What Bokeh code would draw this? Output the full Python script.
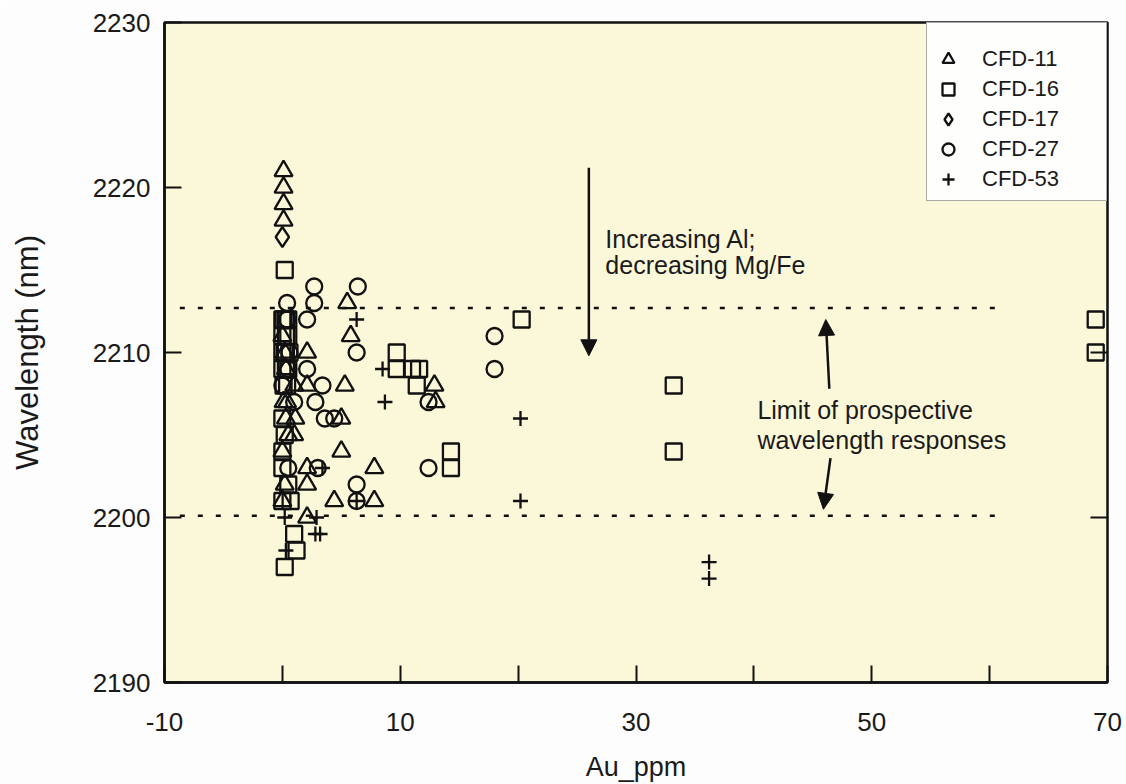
from bokeh.plotting import figure
from bokeh.models import (FixedTicker, Legend, LegendItem, Arrow, NormalHead,
                          LinearAxis, Range1d)
from bokeh.embed import file_html
from bokeh.resources import INLINE
from bokeh.core.properties import value

FONT = "Liberation Sans"

# ---------------- data ----------------
series_names = ["CFD-11", "CFD-16", "CFD-17", "CFD-27", "CFD-53"]

cfd11_au = [0.1, 0.1, 0.1, 0.1, 5.5, 5.8, 0.0, 2.1, 0.2, 1.0, 2.1, 5.3, 0.1, 0.3, 1.1,
            5.0, 0.5, 1.0, 0.0, 5.0, 2.1, 7.8, 0.2, 2.1, 0.0, 4.4, 7.8, 2.1, 12.9, 13.0,
            0.3, 0.4]
cfd11_wl = [2221, 2220, 2219, 2218, 2213, 2211, 2211, 2210, 2210, 2208, 2208, 2208, 2207,
            2206, 2206, 2206, 2205, 2205, 2204, 2204, 2203, 2203, 2202, 2202, 2201, 2201,
            2201, 2200, 2208, 2207, 2209, 2207]

cfd16_au = [0.2, 0.0, 0.3, 0.0, 0.3, 0.0, 0.3, 0.0, 0.3, 0.1, 0.0, 0.2, 0.0, 0.0, 0.5,
            0.0, 0.7, 1.0, 1.2, 0.2, 9.7, 9.7, 11.0, 11.6, 11.4, 14.3, 14.3, 20.3, 33.2,
            33.2, 69.0, 69.0, 0.1, 0.5, 0.5, 0.2, 0.6, 0.5, 0.4]
cfd16_wl = [2215, 2212, 2212, 2211, 2211, 2210, 2210, 2209, 2209, 2208, 2206, 2205, 2204,
            2203, 2202, 2201, 2201, 2199, 2198, 2197, 2210, 2209, 2209, 2209, 2208, 2204,
            2203, 2212, 2208, 2204, 2212, 2210, 2212, 2212, 2211, 2210, 2210, 2209, 2208]

cfd17_au = [0.0]
cfd17_wl = [2217]

cfd27_au = [2.7, 6.4, 0.4, 2.7, 0.4, 2.1, 0.6, 6.3, 0.5, 2.1, 0.0, 3.4, 1.0, 2.8, 3.6,
            4.4, 0.5, 3.0, 6.3, 6.3, 12.4, 12.4, 18.0, 18.0]
cfd27_wl = [2214, 2214, 2213, 2213, 2212, 2212, 2210, 2210, 2209, 2209, 2208, 2208, 2207,
            2207, 2206, 2206, 2203, 2203, 2202, 2201, 2207, 2203, 2211, 2209]

cfd53_au = [6.3, 8.5, 8.7, 3.4, 6.3, 0.2, 2.9, 2.8, 3.2, 0.3, 20.2, 20.2, 36.2, 36.2]
cfd53_wl = [2212, 2209, 2207, 2203, 2201, 2200, 2200, 2199, 2199, 2198, 2206, 2201,
            2197.3, 2196.3]

# limits of prospective wavelength responses
limit_wl = [2212.7, 2200.1]
limit_au_span = [-8.7, 61.5]

x_major_ticks = [-10, 10, 30, 50, 70]
x_minor_ticks = [0, 20, 40, 60]
y_ticks = [2190, 2200, 2210, 2220, 2230]

# annotation texts (positions in data units)
note1_lines = ["Increasing Al;", "decreasing Mg/Fe"]
note1_x = 27.4
note1_y = [2216.9, 2215.3]
note2_lines = ["Limit of prospective", "wavelength responses"]
note2_x = 40.3
note2_y = [2206.5, 2204.7]

# arrows: (x_start, y_start, x_end, y_end)
arrows = [
    (26.0, 2221.2, 26.0, 2209.8),
    (46.4, 2207.8, 46.1, 2212.0),
    (46.5, 2203.6, 45.9, 2200.5),
]

# ---------------- figure ----------------
p = figure(width=1126, height=784,
           x_range=Range1d(-10, 70), y_range=Range1d(2190, 2230),
           output_backend="svg", toolbar_location=None,
           min_border_left=164, min_border_top=22, min_border_right=19,
           min_border_bottom=101)

p.background_fill_color = "#fbf8da"
p.border_fill_color = "#fdfdfd"
p.outline_line_color = "#111111"
p.outline_line_width = 2.5
p.grid.visible = False

# axes
xa = p.xaxis[0]
xa.ticker = FixedTicker(ticks=x_major_ticks, minor_ticks=x_minor_ticks)
xa.major_label_overrides = {-10: "-10"}
xa.axis_label = "Au_ppm"
ya = p.yaxis[0]
ya.ticker = FixedTicker(ticks=y_ticks)
ya.axis_label = "Wavelength (nm)"

for ax in (xa, ya):
    ax.axis_line_width = 2.5
    ax.axis_line_color = "#111111"
    ax.major_tick_in = 17
    ax.major_tick_out = 0
    ax.major_tick_line_width = 2
    ax.major_tick_line_color = "#111111"
    ax.minor_tick_in = 17
    ax.minor_tick_out = 0
    ax.minor_tick_line_width = 2
    ax.minor_tick_line_color = "#111111"
    ax.major_label_text_font = FONT
    ax.major_label_text_font_size = "26px"
    ax.major_label_text_color = "#1a1a1a"
    ax.axis_label_text_font = FONT
    ax.axis_label_text_font_size = "27px"
    ax.axis_label_text_font_style = "normal"
    ax.axis_label_text_color = "#1a1a1a"

ya.minor_tick_line_color = None
ya.axis_label_text_font_size = "31px"
xa.major_label_standoff = 30
xa.axis_label_standoff = 18
ya.major_label_standoff = 14
ya.axis_label_standoff = 45

# right axis: ticks only
ra = LinearAxis(ticker=FixedTicker(ticks=[2200, 2210, 2220]),
                major_label_overrides={2200: "", 2210: "", 2220: ""},
                axis_line_color=None, major_tick_in=17, major_tick_out=0,
                major_tick_line_width=2, major_tick_line_color="#111111",
                minor_tick_line_color=None, major_label_text_font_size="1px",
                major_label_standoff=0)
p.add_layout(ra, "right")

# limit lines
for wl in limit_wl:
    p.line(x=limit_au_span, y=[wl, wl], line_color="#111111", line_width=2.5,
           line_dash="5 13")

# scatter series
common = dict(fill_color=None, line_color="#111111", line_width=2.3)
r11 = p.scatter(cfd11_au, cfd11_wl, marker="triangle", size=18, **common)
r16 = p.scatter(cfd16_au, cfd16_wl, marker="square", size=16, **common)
r17 = p.scatter(cfd17_au, cfd17_wl, marker="diamond", size=20, **common)
r27 = p.scatter(cfd27_au, cfd27_wl, marker="circle", size=16, **common)
r53 = p.scatter(cfd53_au, cfd53_wl, marker="cross", size=15, **common)

# arrows
for xs, ys, xe, ye in arrows:
    p.add_layout(Arrow(end=NormalHead(size=16, fill_color="#111111",
                                      line_color="#111111", line_width=1),
                       x_start=xs, y_start=ys, x_end=xe, y_end=ye,
                       line_color="#111111", line_width=2.5))

# annotation texts
p.text(x=[note1_x] * 2, y=note1_y, text=note1_lines, text_font=value(FONT),
       text_font_size="25px", text_baseline="middle", text_align="left",
       text_color="#1a1a1a")
p.text(x=[note2_x] * 2, y=note2_y, text=note2_lines, text_font=value(FONT),
       text_font_size="25px", text_baseline="middle", text_align="left",
       text_color="#1a1a1a")

# legend
legend = Legend(items=[LegendItem(label=n, renderers=[r]) for n, r in
                       zip(series_names, [r11, r16, r17, r27, r53])],
                location="top_right", margin=0, padding=6, spacing=0,
                glyph_width=30, glyph_height=30, label_standoff=19,
                label_width=118, label_height=30,
                label_text_font=FONT, label_text_font_size="22px",
                label_text_color="#1a1a1a",
                title=" ", title_text_font_size="8px", title_standoff=6,
                border_line_color="#555555", border_line_width=1.5,
                background_fill_color="#fefefc", background_fill_alpha=1.0)
p.add_layout(legend)

open("out.html", "w").write(file_html(p, INLINE))
